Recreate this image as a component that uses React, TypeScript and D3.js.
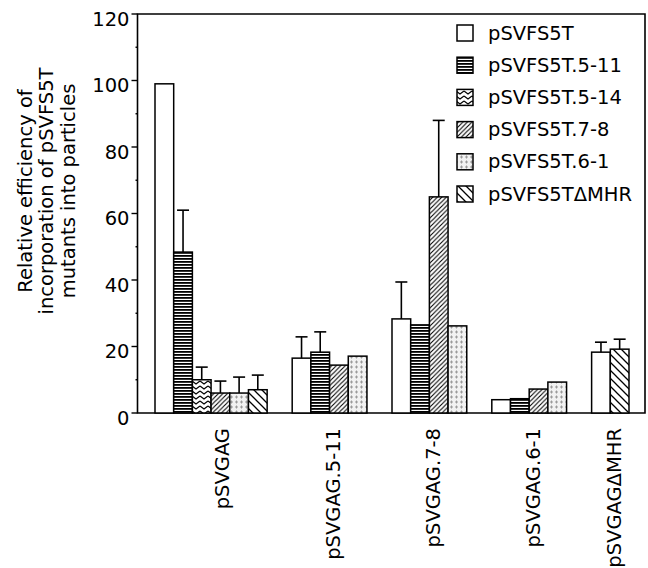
import React from "react";
import * as d3 from "d3";

const groups = ["pSVGAG", "pSVGAG.5-11", "pSVGAG.7-8", "pSVGAG.6-1", "pSVGAGΔMHR"];
const series = [
  "pSVFS5T",
  "pSVFS5T.5-11",
  "pSVFS5T.5-14",
  "pSVFS5T.7-8",
  "pSVFS5T.6-1",
  "pSVFS5TΔMHR",
];
// null = no bar for that mutant in that group
const values = [
  [99, 16.5, 28.3, 4, 18.3],
  [48.4, 18.3, 26.5, 4.3, null],
  [10, null, null, null, null],
  [6, 14.4, 65, 7.2, null],
  [6, 17.1, 26.2, 9.3, null],
  [7, null, null, null, 19.2],
];
const errTops = [
  [null, 22.9, 39.4, null, 21.3],
  [61, 24.4, null, null, null],
  [13.8, null, null, null, null],
  [9.6, null, 88, null, null],
  [10.8, null, null, null, null],
  [11.4, null, null, null, 22.2],
];
const yTicks = [0, 20, 40, 60, 80, 100, 120];
const patternIds = ["p-white", "p-hline", "p-wave", "p-diag", "p-dots", "p-back"];

const W = 648;
const H = 568;
const left = 137.5;
const right = 645;
const top = 14;
const bottom = 413;
const font = "'DejaVu Sans', Verdana, sans-serif";
const fs = 19.5;

export default function App() {
  const y = d3.scaleLinear().domain([0, 120]).range([bottom, top]);

  // lay bars side by side, skipping missing ones, with a gap between groups
  const gapUnits = 1.34;
  type Bar = { g: number; s: number; v: number; e: number | null; u: number };
  const bars: Bar[] = [];
  const groupSpan: [number, number][] = [];
  let u = 0;
  groups.forEach((_, g) => {
    const start = u;
    series.forEach((_, s) => {
      const v = values[s][g];
      if (v == null) return;
      bars.push({ g, s, v, e: errTops[s][g], u });
      u += 1;
    });
    groupSpan.push([start, u]);
    u += gapUnits;
  });
  const totalUnits = u - gapUnits;
  const x = d3.scaleLinear().domain([0, totalUnits]).range([155, 629]);
  const bw = x(1) - x(0);

  const minorTicks = d3.range(10, 120, 20);

  return (
    <svg
      width={W}
      height={H}
      style={{ position: "absolute", left: 0, top: 0, background: "#fff" }}
      fontFamily={font}
    >
      <defs>
        <pattern id="p-white" width="4" height="4" patternUnits="userSpaceOnUse">
          <rect width="4" height="4" fill="#fff" />
        </pattern>
        <pattern id="p-hline" width="4" height="3" patternUnits="userSpaceOnUse">
          <rect width="4" height="3" fill="#fff" />
          <rect width="4" height="1.8" fill="#000" />
        </pattern>
        <pattern id="p-wave" width="8" height="5" patternUnits="userSpaceOnUse">
          <rect width="8" height="5" fill="#fff" />
          <path d="M0,1 L4,4 L8,1" stroke="#000" strokeWidth="1.2" fill="none" />
        </pattern>
        <pattern id="p-diag" width="4.5" height="4.5" patternUnits="userSpaceOnUse">
          <rect width="4.5" height="4.5" fill="#fff" />
          <path d="M0,4.5 L4.5,0 M-1,1 L1,-1 M3.5,5.5 L5.5,3.5" stroke="#000" strokeWidth="1.1" />
        </pattern>
        <pattern id="p-dots" width="5" height="5" patternUnits="userSpaceOnUse">
          <rect width="5" height="5" fill="#f2f2f2" />
          <path d="M1.5,0.5 V3.5 M0,2 H3" stroke="#9a9a9a" strokeWidth="1" />
        </pattern>
        <pattern id="p-back" width="8" height="8" patternUnits="userSpaceOnUse">
          <rect width="8" height="8" fill="#fff" />
          <path d="M0,0 L8,8 M-2,6 L2,10 M6,-2 L10,2" stroke="#000" strokeWidth="1.3" />
        </pattern>
      </defs>

      {/* frame */}
      <path
        d={`M${left},${bottom} V${top} H${right} V${bottom} Z`}
        fill="none"
        stroke="#000"
        strokeWidth={1.6}
      />

      {/* y axis ticks */}
      {yTicks.map((t) => (
        <g key={t}>
          <line x1={left - 6} x2={left} y1={y(t)} y2={y(t)} stroke="#000" strokeWidth={1.4} />
          <text
            x={left - 8}
            y={y(t) + 5}
            textAnchor="end"
            dominantBaseline="central"
            fontSize={fs}
          >
            {t}
          </text>
        </g>
      ))}
      {minorTicks.map((t) => (
        <line key={t} x1={left - 2} x2={left} y1={y(t)} y2={y(t)} stroke="#000" strokeWidth={1.4} />
      ))}

      {/* bars */}
      {bars.map((b, i) => (
        <rect
          key={i}
          x={x(b.u)}
          y={y(b.v)}
          width={bw}
          height={y(0) - y(b.v)}
          fill={`url(#${patternIds[b.s]})`}
          stroke="#000"
          strokeWidth={1.5}
        />
      ))}

      {/* error bars */}
      {bars
        .filter((b) => b.e != null)
        .map((b, i) => {
          const cx = x(b.u) + bw / 2;
          return (
            <g key={i} stroke="#000" strokeWidth={1.6}>
              <line x1={cx} x2={cx} y1={y(b.v)} y2={y(b.e as number)} />
              <line x1={cx - 6} x2={cx + 6} y1={y(b.e as number)} y2={y(b.e as number)} />
            </g>
          );
        })}

      {/* x labels */}
      {groups.map((g, i) => {
        const cx = (x(groupSpan[i][0]) + x(groupSpan[i][1])) / 2 + (i === 0 ? 11 : 4);
        return (
          <text
            key={g}
            transform={`translate(${cx},428) rotate(-90)`}
            textAnchor="end"
            dy="0.35em"
            fontSize={fs}
          >
            {g}
          </text>
        );
      })}

      {/* y title */}
      {["Relative efficiency of", "incorporation of pSVFS5T", "mutants into particles"].map(
        (line, i) => (
          <text
            key={line}
            transform={`translate(${25 + i * 21.5},191) rotate(-90)`}
            textAnchor="middle"
            dy="0.35em"
            fontSize={fs}
          >
            {line}
          </text>
        )
      )}

      {/* legend */}
      {series.map((s, i) => {
        const cy = 33 + i * 32.2;
        return (
          <g key={s}>
            <rect
              x={457}
              y={cy - 8}
              width={16}
              height={16}
              fill={`url(#${patternIds[i]})`}
              stroke="#000"
              strokeWidth={1.5}
            />
            <text x={488} y={cy} dominantBaseline="central" fontSize={fs}>
              {s}
            </text>
          </g>
        );
      })}
    </svg>
  );
}
